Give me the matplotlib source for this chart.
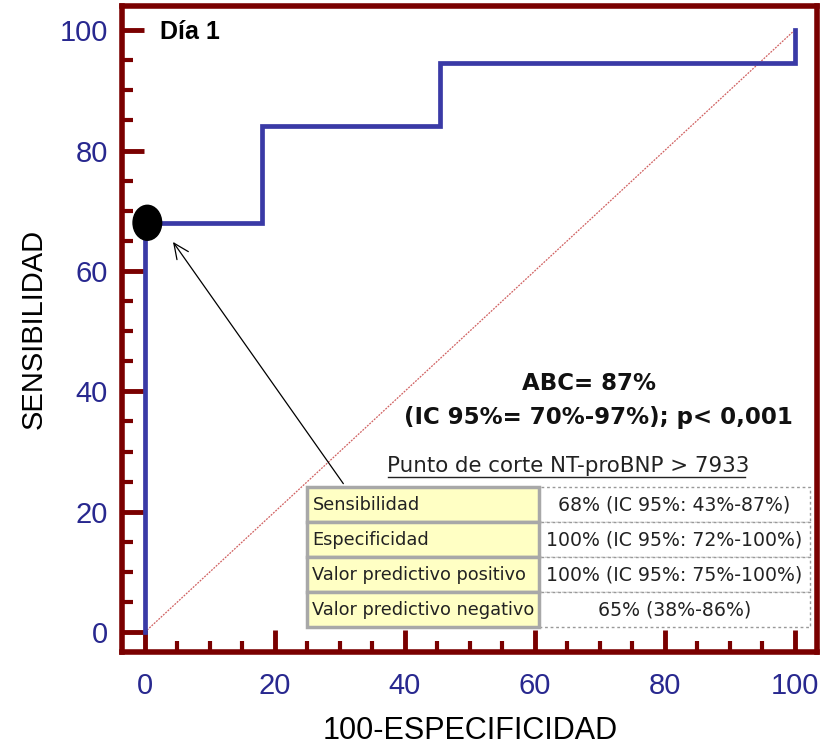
import matplotlib.pyplot as plt
from matplotlib.patches import Rectangle, Ellipse
from matplotlib.ticker import MultipleLocator

# ROC curve (100-especificidad, sensibilidad), step shape
fpr = [0, 0, 18, 18, 45.5, 45.5, 100, 100]
tpr = [0, 68, 68, 84, 84, 94.5, 94.5, 100]

# optimal cut point
cut_x, cut_y = 0, 68

row_names = ["Sensibilidad", "Especificidad",
             "Valor predictivo positivo", "Valor predictivo negativo"]
row_values = ["68% (IC 95%: 43%-87%)", "100% (IC 95%: 72%-100%)",
              "100% (IC 95%: 75%-100%)", "65% (38%-86%)"]

dark_red = "#7a0000"
navy = "#28288f"
line_blue = "#3a3aa6"

plt.rcParams['font.family'] = ['Liberation Sans', 'DejaVu Sans']

fig = plt.figure(figsize=(8.27, 7.47), dpi=100)
ax = fig.add_axes([0.1475, 0.127, 0.841, 0.865])

ax.plot([0, 100], [0, 100], color="#d06060", lw=0.9, ls=(0, (1.5, 1)))
ax.plot(fpr, tpr, color=line_blue, lw=3.4, solid_joinstyle='miter', zorder=3)
ax.add_patch(Ellipse((cut_x + 0.4, cut_y), 4.4, 5.8, color="black", zorder=4))

ax.annotate("", xy=(4.1, 65.2), xytext=(30.8, 24.3),
            arrowprops=dict(arrowstyle="->,head_length=1.1,head_width=0.5",
                            color="black", lw=0.9))

ax.set_xlim(-3.5, 103.5)
ax.set_ylim(-3.3, 104)
ax.xaxis.set_major_locator(MultipleLocator(20))
ax.xaxis.set_minor_locator(MultipleLocator(5))
ax.yaxis.set_major_locator(MultipleLocator(20))
ax.yaxis.set_minor_locator(MultipleLocator(5))
ax.tick_params(which='major', direction='in', length=16, width=3.5,
               color=dark_red, labelsize=21, labelcolor=navy)
ax.tick_params(which='minor', direction='in', length=8, width=3,
               color=dark_red)
ax.tick_params(axis='x', which='major', pad=14)
ax.tick_params(axis='y', which='major', pad=10)
for s in ax.spines.values():
    s.set_color(dark_red)
    s.set_linewidth(4)

ax.set_xlabel("100-ESPECIFICIDAD", fontsize=22, labelpad=12)
ax.set_ylabel("SENSIBILIDAD", fontsize=21, labelpad=9)

ax.text(2.3, 99.6, "Día 1", fontsize=18, fontweight='bold', va='center')
ax.text(68.4, 41.3, "ABC= 87%", fontsize=16.5, fontweight='bold',
        family=['DejaVu Sans'], ha='center', va='center', color="#111111")
ax.text(69.8, 35.6, "(IC 95%= 70%-97%); p< 0,001", fontsize=16.5,
        fontweight='bold', family=['DejaVu Sans'],
        ha='center', va='center', color="#111111")

# cut-off table
ax.text(65.2, 27.6, "Punto de corte NT-proBNP > 7933", fontsize=15.4,
        ha='center', va='center', family=['DejaVu Sans'], color="#222222")
ax.plot([37.4, 92.4], [25.7, 25.7], color="#222222", lw=1, clip_on=False)

x0, x1, x2 = 25.0, 60.6, 102.3
top, rh = 24.1, 5.81
for i, (name, val) in enumerate(zip(row_names, row_values)):
    yt = top - i * rh
    ax.add_patch(Rectangle((x0, yt - rh), x1 - x0, rh, facecolor="#ffffc4",
                           edgecolor="#a8a8a8", lw=2.5, zorder=5,
                           clip_on=False))
    ax.add_patch(Rectangle((x1, yt - rh), x2 - x1, rh, facecolor="white",
                           edgecolor="#999999", lw=1, ls=(0, (2, 2)),
                           zorder=4, clip_on=False))
    ax.text(x0 + 0.8, yt - rh / 2, name, fontsize=12.8, va='center',
            family=['DejaVu Sans'], zorder=6, color="#222222")
    ax.text((x1 + x2) / 2, yt - rh / 2, val, fontsize=13.6, va='center',
            ha='center', family=['DejaVu Sans'], zorder=6, color="#222222",
            clip_on=False)

fig.savefig("out.png", dpi=100)
